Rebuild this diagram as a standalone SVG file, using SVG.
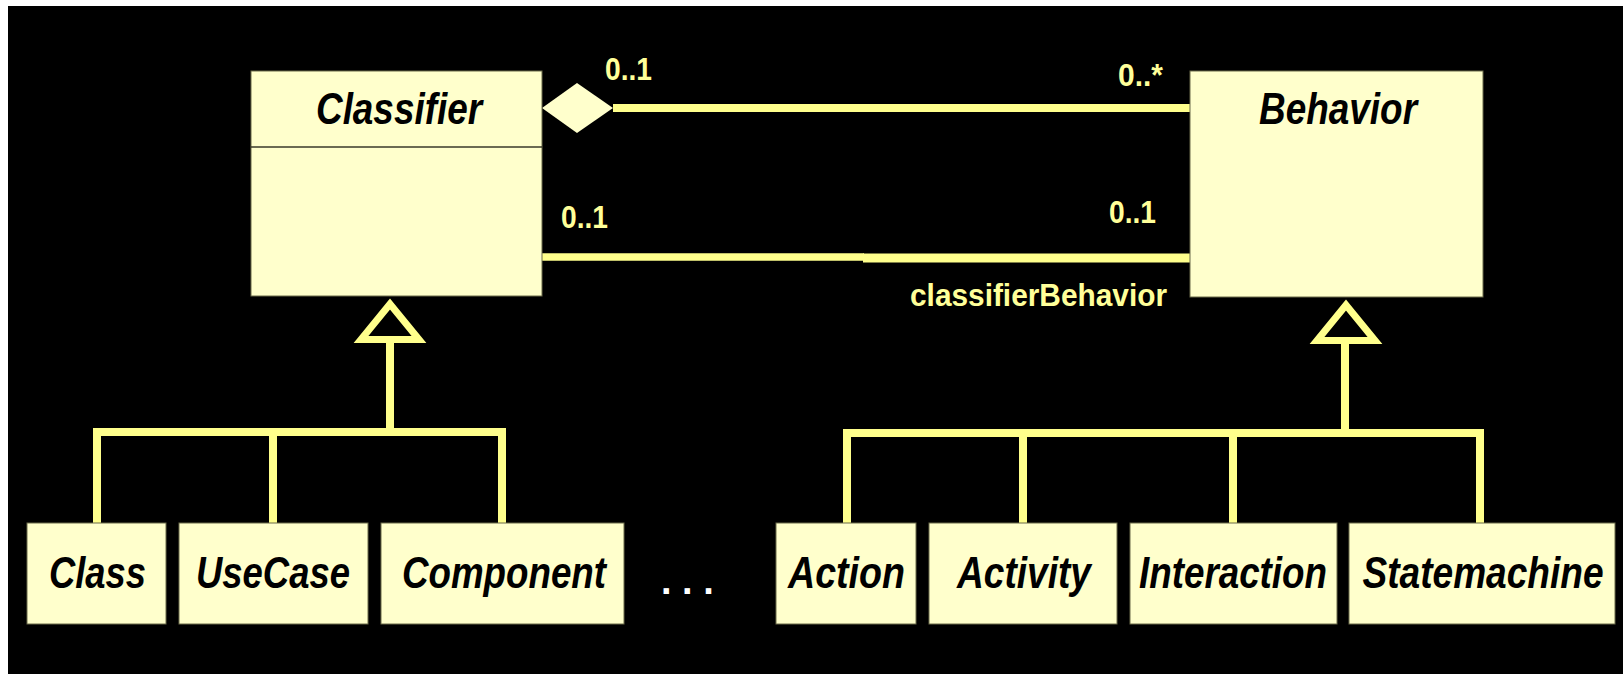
<svg xmlns="http://www.w3.org/2000/svg" width="1623" height="674" viewBox="0 0 1623 674">
<style>
.box{fill:#FFFFCC;stroke:#6b6b4a;stroke-width:1}
.name{font-family:"Liberation Sans",Arial,sans-serif;font-weight:bold;font-style:italic;font-size:44px;fill:#000;text-anchor:middle}
.lbl{font-family:"Liberation Sans",Arial,sans-serif;font-weight:bold;font-size:32px;fill:#FFFF99}
.ln{stroke:#FFFF8C;stroke-width:8;fill:none}
.tri{stroke:#FFFF8C;stroke-width:7;fill:#000;stroke-linejoin:miter}
</style>
<rect x="0" y="0" width="1623" height="674" fill="#fff"/>
<rect x="8" y="6" width="1615" height="668" fill="#000"/>
<g id="connectors">
<line class="ln" x1="613" y1="108" x2="1190" y2="108"/>
<polygon points="542,108 577,83 613,108 577,133" fill="#FFFFCC"/>
<line class="ln" x1="542" y1="257" x2="864" y2="257" style="stroke-width:7.5"/>
<line class="ln" x1="863" y1="258" x2="1190" y2="258" style="stroke-width:9"/>
<line class="ln" x1="390" y1="340" x2="390" y2="432"/>
<polyline class="ln" points="97,523 97,432 502,432 502,523" style="stroke-linejoin:miter"/>
<line class="ln" x1="273" y1="432" x2="273" y2="523"/>
<polygon class="tri" points="390,304 361,339.5 419,339.5"/>
<line class="ln" x1="1345" y1="341" x2="1345" y2="433"/>
<polyline class="ln" points="847,523 847,433 1480,433 1480,523" style="stroke-linejoin:miter"/>
<line class="ln" x1="1023" y1="433" x2="1023" y2="523"/>
<line class="ln" x1="1233" y1="433" x2="1233" y2="523"/>
<polygon class="tri" points="1346,305 1317,340.5 1375,340.5"/>
<text class="lbl" x="605" y="80" textLength="47" lengthAdjust="spacingAndGlyphs">0..1</text>
<text class="lbl" x="1118" y="86" textLength="45" lengthAdjust="spacingAndGlyphs">0..*</text>
<text class="lbl" x="561" y="228" textLength="47" lengthAdjust="spacingAndGlyphs">0..1</text>
<text class="lbl" x="1109" y="223" textLength="47" lengthAdjust="spacingAndGlyphs">0..1</text>
<text class="lbl" x="910" y="306" textLength="257" lengthAdjust="spacingAndGlyphs">classifierBehavior</text>
</g>
<g id="classifier">
<rect class="box" x="251" y="71" width="291" height="225"/>
<line x1="251" y1="147" x2="542" y2="147" stroke="#3a3a2a" stroke-width="1.5"/>
<text class="name" x="399" y="124" textLength="166" lengthAdjust="spacingAndGlyphs">Classifier</text>
</g>
<g id="behavior">
<rect class="box" x="1190" y="71" width="293" height="226"/>
<text class="name" x="1338" y="124" textLength="158" lengthAdjust="spacingAndGlyphs">Behavior</text>
</g>
<g id="class">
<rect class="box" x="27" y="523" width="139" height="101"/>
<text class="name" x="97.5" y="588" textLength="97" lengthAdjust="spacingAndGlyphs">Class</text>
</g>
<g id="usecase">
<rect class="box" x="179" y="523" width="189" height="101"/>
<text class="name" x="273" y="588" textLength="154" lengthAdjust="spacingAndGlyphs">UseCase</text>
</g>
<g id="component">
<rect class="box" x="381" y="523" width="243" height="101"/>
<text class="name" x="504" y="588" textLength="204" lengthAdjust="spacingAndGlyphs">Component</text>
</g>
<g id="ellipsis">
<text x="661" y="594" font-family="Liberation Sans,Arial,sans-serif" font-weight="bold" font-size="38" fill="#fff">. . .</text>
</g>
<g id="action">
<rect class="box" x="776" y="523" width="140" height="101"/>
<text class="name" x="846.5" y="588" textLength="117" lengthAdjust="spacingAndGlyphs">Action</text>
</g>
<g id="activity">
<rect class="box" x="929" y="523" width="188" height="101"/>
<text class="name" x="1024" y="588" textLength="134" lengthAdjust="spacingAndGlyphs">Activity</text>
</g>
<g id="interaction">
<rect class="box" x="1130" y="523" width="207" height="101"/>
<text class="name" x="1233" y="588" textLength="188" lengthAdjust="spacingAndGlyphs">Interaction</text>
</g>
<g id="statemachine">
<rect class="box" x="1349" y="523" width="266" height="101"/>
<text class="name" x="1483" y="588" textLength="241" lengthAdjust="spacingAndGlyphs">Statemachine</text>
</g>
</svg>
